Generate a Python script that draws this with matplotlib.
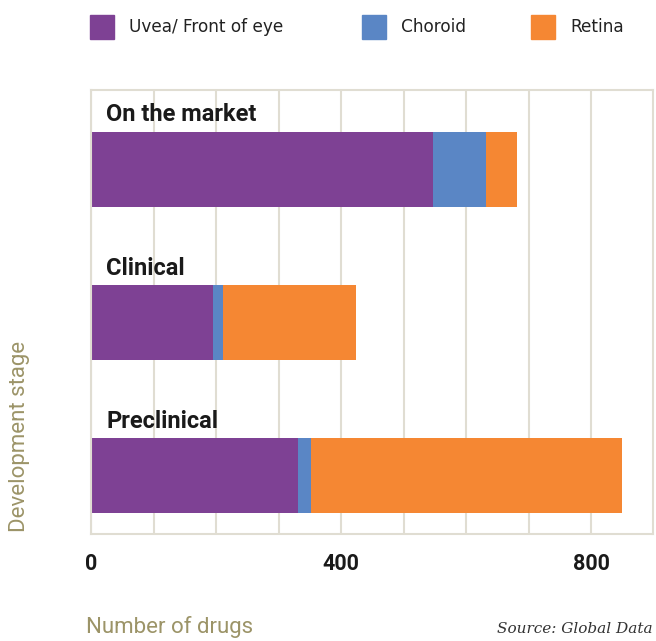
import matplotlib.pyplot as plt
from matplotlib.patches import Rectangle
import numpy as np

# Data (number of drugs per development stage)
stages = ['Preclinical', 'Clinical', 'On the market']
uvea = [331, 195, 547]
choroid = [21, 16, 85]
retina = [498, 213, 50]
series_names = ['Uvea/ Front of eye', 'Choroid', 'Retina']
tick_values = [0, 400, 800]

colors = ['#7E4194', '#5A86C5', '#F58733']
grid_color = '#e0ddd2'
olive = '#9C9468'
dark = '#1a1a1a'

plt.rcParams['font.family'] = ['Roboto', 'DejaVu Sans']

W, H = 656, 641
fig = plt.figure(figsize=(W / 100, H / 100), dpi=100)
ax = fig.add_axes([91 / W, 1 - 534 / H, 562 / W, 444.5 / H])

y = np.arange(len(stages))
bar_h = 0.49
left = np.zeros(len(stages))
for vals, col, name in zip([uvea, choroid, retina], colors, series_names):
    ax.barh(y, vals, left=left, height=bar_h, color=col, label=name, zorder=2)
    left = left + np.array(vals)

# stage labels above each bar
for yi, name in zip(y, stages):
    ax.annotate(name, xy=(24, yi + bar_h / 2), xytext=(0, 7.5),
                textcoords='offset points', ha='left', va='baseline',
                fontsize=17, fontweight='bold', color=dark, zorder=3)

ax.set_xlim(0, 899)
ax.set_ylim(-0.38, 2.52)

ax.set_xticks(np.arange(0, 900, 100))
ax.set_xticklabels([str(v) if v in tick_values else '' for v in range(0, 900, 100)])
ax.set_yticks([])
ax.tick_params(axis='x', length=0, pad=14, labelsize=15.5)
for lab in ax.get_xticklabels():
    lab.set_fontweight('bold')
    lab.set_color(dark)

ax.grid(axis='x', color=grid_color, linewidth=1.5, zorder=0)
ax.set_axisbelow(True)
for sp in ax.spines.values():
    sp.set_color(grid_color)
    sp.set_linewidth(1.5)

# legend at top (drawn by hand for exact placement)
legend_x = [90, 362, 531]
for lx, col, name in zip(legend_x, colors, series_names):
    fig.patches.append(Rectangle((lx / W, 1 - 39 / H), 24 / W, 24 / H,
                                 transform=fig.transFigure, color=col))
    fig.text((lx + 39) / W, 1 - 27 / H, name, family='DejaVu Sans',
             fontsize=12.2, color='#222222', ha='left', va='center')

fig.text(86 / W, 1 - 633 / H, 'Number of drugs', color=olive, fontsize=16,
         ha='left', va='baseline')
fig.text(653 / W, 1 - 633 / H, 'Source: Global Data', color='#333333',
         fontsize=11, ha='right', va='baseline', style='italic',
         family='DejaVu Serif')
fig.text(20 / W, 1 - 436 / H, 'Development stage', color=olive, fontsize=16,
         rotation=90, ha='center', va='center')

fig.savefig('out.png', dpi=100)
